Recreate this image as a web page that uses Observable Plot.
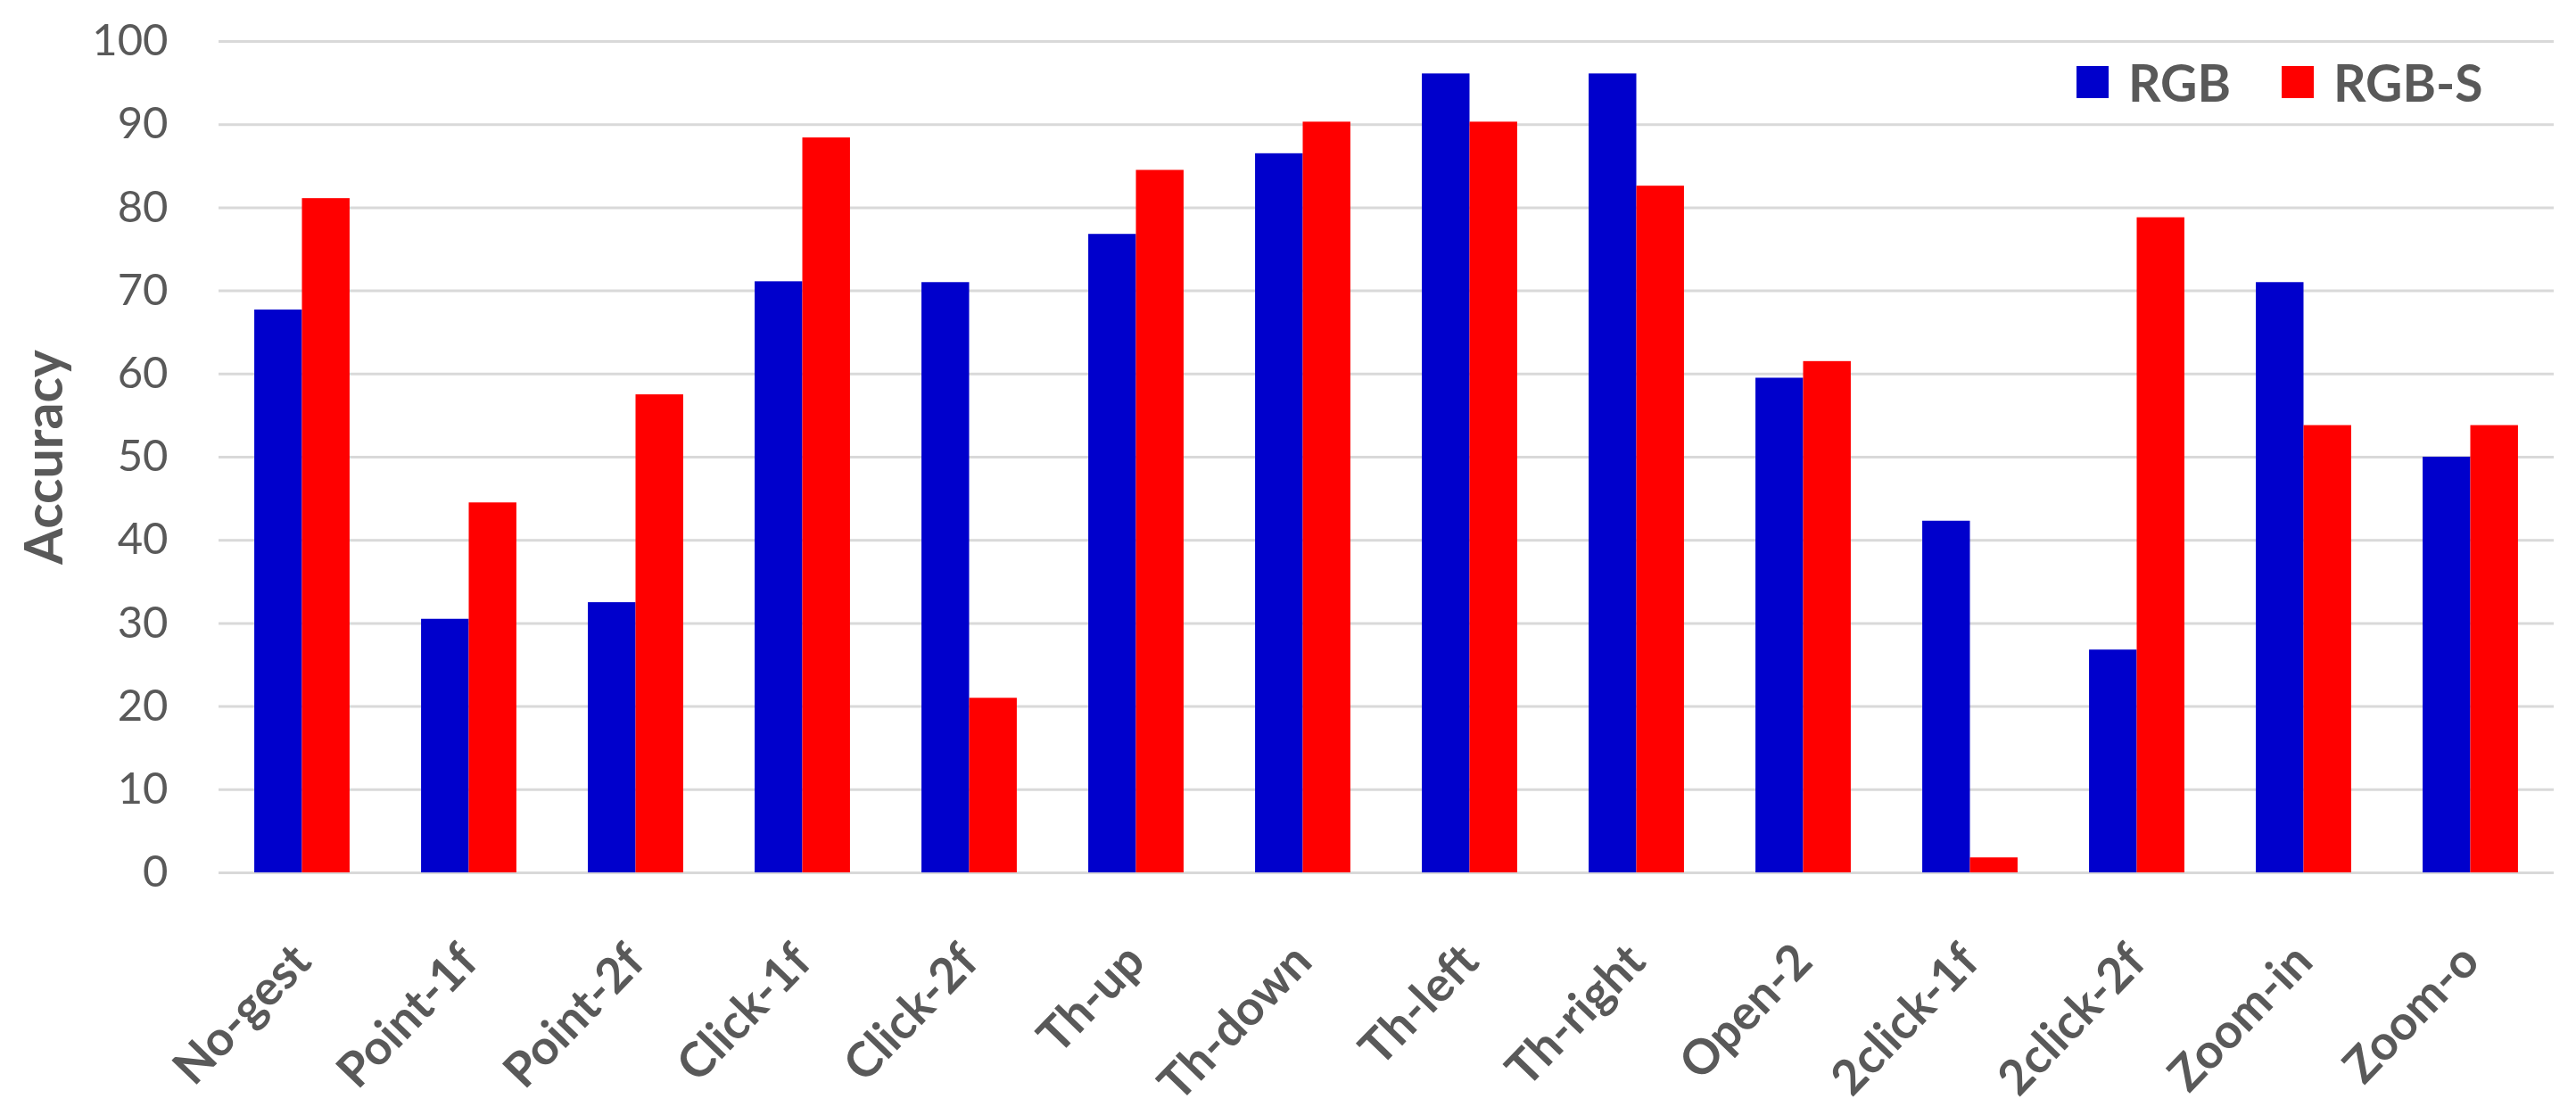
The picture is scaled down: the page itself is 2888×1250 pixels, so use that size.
<!DOCTYPE html>
<html>
<head>
<meta charset="utf-8">
<script src="https://cdn.jsdelivr.net/npm/d3@7"></script>
<script src="https://cdn.jsdelivr.net/npm/@observablehq/plot@0.6"></script>
<style>
  html, body { margin: 0; padding: 0; background: #fff; }
  #wrap { position: relative; width: 2888px; height: 1250px; font-family: Lato, "Noto Sans", sans-serif; color: #595959; }
  #legend { position: absolute; left: 2328px; top: 62px; display: flex; align-items: center; font-weight: 700; font-size: 57px; line-height: 60px; }
  #legend .sw { width: 36px; height: 36px; display: inline-block; margin-right: 22px; }
  #legend .item { display: flex; align-items: center; margin-right: 57px; }
  svg g[aria-label="x-axis tick label"] text { font-weight: 700; font-size: 54px; }
  svg g[aria-label="y-axis tick label"] text { font-size: 49px; }
  svg g[aria-label="y-axis label"] text { font-weight: 700; font-size: 59px; }
</style>
</head>
<body>
<div id="wrap"><div id="chart"></div><div id="legend"></div></div>
<script>
const categories = ["No-gest", "Point-1f", "Point-2f", "Click-1f", "Click-2f", "Th-up", "Th-down", "Th-left", "Th-right", "Open-2", "2click-1f", "2click-2f", "Zoom-in", "Zoom-o"];
const rgb  = [67.7, 30.5, 32.5, 71.1, 71.0, 76.8, 86.5, 96.1, 96.1, 59.5, 42.3, 26.8, 71.0, 50.0];
const rgbS = [81.1, 44.5, 57.5, 88.4, 21.0, 84.5, 90.3, 90.3, 82.6, 61.5, 1.8, 78.8, 53.8, 53.8];
const seriesNames = ["RGB", "RGB-S"];
const seriesColors = ["#0000CC", "#FF0000"];
const yTicks = [0, 10, 20, 30, 40, 50, 60, 70, 80, 90, 100];

const barW = 2 / 7; // Excel gap width 150%
const rows = [];
categories.forEach((c, i) => {
  rows.push({cat: c, i, series: seriesNames[0], value: rgb[i], x1: i - barW, x2: i});
  rows.push({cat: c, i, series: seriesNames[1], value: rgbS[i], x1: i, x2: i + barW});
});

const chart = Plot.plot({
  width: 2888,
  height: 1250,
  marginLeft: 245,
  marginRight: 25,
  marginTop: 46,
  marginBottom: 272,
  style: {fontFamily: "Lato, 'Noto Sans', sans-serif", color: "#595959", background: "#fff"},
  x: {type: "linear", domain: [-0.5, categories.length - 0.5]},
  y: {domain: [0, 100]},
  color: {domain: seriesNames, range: seriesColors},
  marks: [
    Plot.ruleY(yTicks, {stroke: "#d9d9d9", strokeWidth: 3}),
    Plot.rectY(rows, {x1: "x1", x2: "x2", y1: 0, y2: "value", fill: "series"}),
    Plot.axisY({ticks: yTicks, tickSize: 0, tickPadding: 57, label: "Accuracy", labelAnchor: "center", labelArrow: "none", labelOffset: 217}),
    Plot.axisX({ticks: d3.range(categories.length), tickFormat: (i) => categories[i], tickRotate: -46, tickSize: 0, tickPadding: 90, label: null})
  ]
});
document.getElementById("chart").appendChild(chart);

const legend = document.getElementById("legend");
seriesNames.forEach((name, k) => {
  const item = document.createElement("div");
  item.className = "item";
  const sw = document.createElement("span");
  sw.className = "sw";
  sw.style.background = seriesColors[k];
  const t = document.createElement("span");
  t.textContent = name;
  item.appendChild(sw);
  item.appendChild(t);
  legend.appendChild(item);
});
</script>
</body>
</html>
